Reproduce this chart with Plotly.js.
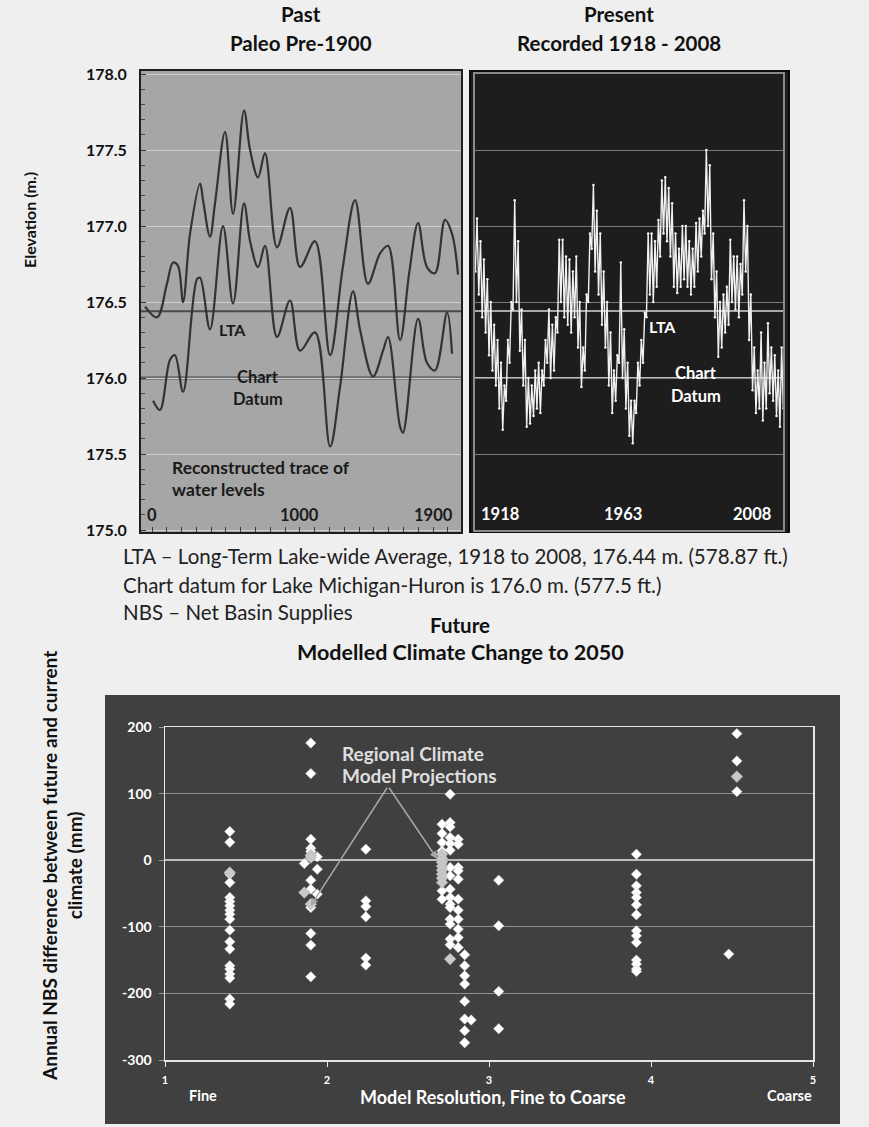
<!DOCTYPE html>
<html>
<head>
<meta charset="utf-8">
<script src="https://cdn.plot.ly/plotly-3.0.1.min.js"></script>
<style>html,body{margin:0;padding:0;background:#efefef;}#chart{width:869px;height:1127px;}</style>
</head>
<body>
<div id="chart"></div>
<script>
// ---------- Past: paleo reconstruction (two traces) ----------
const paleoAYears = [-47, 34, 101, 142, 175, 210, 257, 325, 345, 392, 426, 494, 548, 622, 663, 717, 764, 845, 933, 1001, 1102, 1204, 1290, 1373, 1460, 1542, 1596, 1677, 1740, 1799, 1859, 1913, 1981, 2028, 2069];
const paleoALevel = [176.47, 176.40, 176.62, 176.76, 176.74, 176.50, 176.95, 177.28, 177.17, 176.93, 177.15, 177.62, 177.08, 177.76, 177.50, 177.32, 177.48, 176.86, 177.12, 176.73, 176.90, 176.15, 176.73, 177.17, 176.62, 176.82, 176.87, 176.25, 176.70, 177.02, 176.73, 176.69, 177.04, 176.95, 176.68];
const paleoBYears = [7, 54, 122, 155, 210, 304, 325, 392, 480, 548, 622, 663, 717, 764, 845, 933, 1001, 1102, 1204, 1271, 1359, 1406, 1494, 1562, 1596, 1677, 1697, 1799, 1859, 1913, 1995, 2028];
const paleoBLevel = [175.85, 175.79, 176.12, 176.15, 175.91, 176.65, 176.66, 176.32, 177.00, 176.49, 177.15, 176.90, 176.73, 176.87, 176.27, 176.51, 176.18, 176.30, 175.55, 175.94, 176.57, 176.32, 176.01, 176.18, 176.27, 175.68, 175.64, 176.39, 176.10, 176.05, 176.43, 176.16];
const paleoTickVals = [0, 1000, 1900];
const paleoTickText = ['0', '1000', '1900'];

// ---------- Present: recorded 1918-2008 (seasonal low / high per year) ----------
const recFirstYear = 1918, recLastYear = 2008;
const recLow = [176.70,176.55,176.40,176.30,176.15,176.05,175.95,175.80,175.66,175.85,
176.10,176.45,176.50,176.18,175.95,175.68,175.70,175.75,175.80,175.77,
175.95,176.10,176.00,176.05,176.30,176.50,176.40,176.35,176.30,176.40,
176.20,175.94,176.05,176.50,176.85,176.70,176.55,176.35,176.20,175.95,
175.77,175.85,176.10,176.00,175.80,175.62,175.57,175.77,175.95,176.10,
176.40,176.55,176.50,176.60,176.80,176.95,176.90,176.80,176.60,176.56,
176.60,176.65,176.60,176.55,176.60,176.70,176.80,176.95,177.00,176.65,
176.40,176.14,176.20,176.30,176.35,176.50,176.45,176.40,176.55,176.70,
176.25,175.92,175.77,175.80,175.72,175.80,175.90,175.85,175.75,175.68,
175.80];
const recHigh = [177.05,176.90,176.78,176.65,176.50,176.35,176.25,176.10,175.95,176.25,
176.50,177.17,176.90,176.45,176.25,176.00,175.95,176.05,176.10,176.05,
176.25,176.45,176.35,176.40,176.91,176.91,176.80,176.78,176.70,176.80,
176.50,176.20,176.55,176.95,177.27,177.10,176.95,176.70,176.50,176.30,
176.05,176.15,176.76,176.32,176.10,175.85,175.85,176.10,176.25,176.43,
176.95,176.95,176.90,177.04,177.30,177.32,177.25,177.15,176.95,176.85,
177.00,177.00,176.90,176.85,177.02,177.05,177.10,177.50,177.40,176.95,
176.70,176.50,176.55,176.60,176.91,176.80,176.80,176.75,177.17,177.00,
176.55,176.20,176.05,176.30,176.10,176.36,176.20,176.15,176.05,176.20,
176.10];
const recTickVals = [1918, 1963, 2008];

// reference levels (m)
const LTA = 176.44;
const CHART_DATUM = 176.0;

// ---------- Future: modelled NBS change (mm) ----------
// white diamonds (global models), grouped by model-resolution column
const gcmCols = [
  {x: 1.40, y: [43, 27, -21, -33.5, -56, -62, -68.5, -75, -81, -88.5, -105, -122.5, -133.5, -158.5, -163.5, -171, -177, -208.5, -216]},
  {x: 1.90, y: [176, 130, 31.5, 18, 13, -30, -43.5, -71, -110, -127.5, -175]},
  {x: 1.94, y: [5, -13.5, -51]},
  {x: 1.86, y: [-5]},
  {x: 2.24, y: [16.5, -61, -69.5, -85, -147, -157.5]},
  {x: 2.71, y: [54, 40, 26.5, 14, -46, -58.5]},
  {x: 2.76, y: [99, 56.5, 50, 34, 25, 15, -11, -23.5, -43.5, -56, -66, -71, -88.5, -96, -118.5, -127]},
  {x: 2.81, y: [31.5, 24, -11, -16, -28.5, -58.5, -75, -88.5, -103.5, -116, -131]},
  {x: 2.85, y: [-142, -158.5, -173.5, -186, -212, -238.5, -256, -274]},
  {x: 2.89, y: [-240]},
  {x: 3.06, y: [-30, -98.5, -197, -253]},
  {x: 3.91, y: [9, -21, -38.5, -48.5, -56, -67, -82, -106, -113.5, -123.5, -150, -156, -163.5, -167]},
  {x: 4.53, y: [190, 149, 103]},
  {x: 4.48, y: [-141]}
];
// light grey markers (regional climate models)
const rcmCols = [
  {x: 1.40, y: [-18.5]},
  {x: 1.90, y: [7.5, 4, -66]},
  {x: 1.86, y: [-48.5]},
  {x: 2.71, y: [9, 3, -3, -9, -15, -21, -27, -33.5]},
  {x: 2.76, y: [-148.5]},
  {x: 4.53, y: [125.5]}
];
const rcmArrowTargets = [{x: 1.90, y: -68.5}, {x: 2.68, y: 2}];
const rcmArrowApex = {x: 2.377, y: 111};
const nbsTickVals = [-300, -200, -100, 0, 100, 200];
const nbsTickText = ['-300', '-200', '-100', '0', '100', '200'];
const resTickVals = [1, 2, 3, 4, 5];

// ---------- build ----------
const W = 869, H = 1127;
const px = v => v / W, py = v => 1 - v / H;
const FONT = 'Lato, "Open Sans", "DejaVu Sans", sans-serif';

const recX = [], recY = [];
for (let i = 0; i <= recLastYear - recFirstYear; i++) {
  recX.push(recFirstYear + i + 0.1); recY.push(recLow[i]);
  recX.push(recFirstYear + i + 0.6); recY.push(recHigh[i]);
}
function flatten(cols) {
  const xs = [], ys = [];
  cols.forEach(c => c.y.forEach(v => { xs.push(c.x); ys.push(v); }));
  return {xs, ys};
}
const gcm = flatten(gcmCols), rcm = flatten(rcmCols);

const traces = [
  {x: paleoAYears, y: paleoALevel, xaxis: 'x', yaxis: 'y', mode: 'lines', line: {color: '#333333', width: 2.2, shape: 'spline', smoothing: 1}, hoverinfo: 'skip'},
  {x: paleoBYears, y: paleoBLevel, xaxis: 'x', yaxis: 'y', mode: 'lines', line: {color: '#333333', width: 2.2, shape: 'spline', smoothing: 1}, hoverinfo: 'skip'},
  {x: recX, y: recY, xaxis: 'x2', yaxis: 'y2', mode: 'lines+markers', line: {color: '#f0f0f0', width: 1.4}, marker: {color: '#f4f4f4', size: 2.5}, hoverinfo: 'skip'},
  {x: gcm.xs, y: gcm.ys, xaxis: 'x3', yaxis: 'y3', mode: 'markers', marker: {symbol: 'diamond', size: 8, color: '#ffffff', line: {color: '#cfcfcf', width: 0.5}}, hoverinfo: 'skip'},
  {x: rcm.xs, y: rcm.ys, xaxis: 'x3', yaxis: 'y3', mode: 'markers', marker: {symbol: 'diamond', size: 9, color: '#c9c9c9', line: {color: '#b0b0b0', width: 0.5}}, hoverinfo: 'skip'}
];

const bold = (size, color) => ({family: FONT, size: size, color: color, weight: 700});

const annotations = [
  {text: 'Past', x: px(301), y: py(14), font: bold(20.5, '#111')},
  {text: 'Paleo Pre-1900', x: px(301), y: py(43), font: bold(20.5, '#111')},
  {text: 'Present', x: px(619), y: py(14), font: bold(20.5, '#111')},
  {text: 'Recorded 1918 - 2008', x: px(619), y: py(43), font: bold(20.5, '#111')},
  {text: 'Elevation (m.)', x: px(30), y: py(220), textangle: -90, font: bold(16, '#111')},
  {text: 'LTA', x: px(233), y: py(329), font: bold(16, '#1a1a1a')},
  {text: 'Chart', x: px(258), y: py(377), font: bold(16.5, '#1a1a1a')},
  {text: 'Datum', x: px(258), y: py(399), font: bold(16.5, '#1a1a1a')},
  {text: 'Reconstructed trace of', x: px(170), y: py(468), xanchor: 'left', font: bold(17.5, '#1a1a1a')},
  {text: 'water levels', x: px(170), y: py(490), xanchor: 'left', font: bold(17.5, '#1a1a1a')},
  {text: 'LTA', x: px(662), y: py(326), font: bold(16, '#ffffff')},
  {text: 'Chart', x: px(696), y: py(373), font: bold(16.5, '#ffffff')},
  {text: 'Datum', x: px(696), y: py(396), font: bold(16.5, '#ffffff')},
  {text: 'LTA – Long-Term Lake-wide Average, 1918 to 2008, 176.44 m. (578.87 ft.)', x: px(121), y: py(556), xanchor: 'left', font: {family: FONT, size: 20.5, color: '#222'}},
  {text: 'Chart datum for Lake Michigan-Huron is 176.0 m. (577.5 ft.)', x: px(121), y: py(585), xanchor: 'left', font: {family: FONT, size: 20.5, color: '#222'}},
  {text: 'NBS – Net Basin Supplies', x: px(121), y: py(612), xanchor: 'left', font: {family: FONT, size: 20.5, color: '#222'}},
  {text: 'Future', x: px(460), y: py(625), font: bold(20.5, '#111')},
  {text: 'Modelled Climate Change to 2050', x: px(460), y: py(652), font: bold(21.5, '#111')},
  {text: 'Annual NBS difference between future and current<br>climate (mm)', x: px(62), y: py(866), textangle: -90, font: bold(19, '#111')},
  {text: 'Regional Climate', x: px(340), y: py(753), xanchor: 'left', font: bold(19, '#dedede')},
  {text: 'Model Projections', x: px(340), y: py(775), xanchor: 'left', font: bold(19, '#dedede')},
  {text: 'Fine', x: px(203), y: py(1095), font: bold(14.5, '#ffffff')},
  {text: 'Coarse', x: px(789), y: py(1095), font: bold(14.5, '#ffffff')},
  {text: 'Model Resolution, Fine to Coarse', x: px(493), y: py(1097), font: bold(18, '#ffffff')}
].map(a => Object.assign({xref: 'paper', yref: 'paper', showarrow: false, xanchor: 'center', yanchor: 'middle'}, a));

// paleo x labels (inside the panel)
paleoTickVals.forEach((v, i) => annotations.push({text: paleoTickText[i], x: v, xref: 'x', y: py(515), yref: 'paper', showarrow: false, font: bold(16.5, '#1a1a1a')}));
// recorded x labels (inside the panel)
const recAnch = ['left', 'center', 'right'];
const recShift = [4, -6, -10];
recTickVals.forEach((v, i) => annotations.push({text: String(v), x: v, xref: 'x2', y: py(514), yref: 'paper', xanchor: recAnch[i], xshift: recShift[i], showarrow: false, font: bold(16.5, '#ffffff')}));
// RCM arrows
rcmArrowTargets.forEach(t => annotations.push({text: '', x: t.x, y: t.y, xref: 'x3', yref: 'y3', ax: rcmArrowApex.x, ay: rcmArrowApex.y, axref: 'x3', ayref: 'y3', showarrow: true, arrowhead: 2, arrowsize: 1, arrowwidth: 1.5, arrowcolor: '#a8a8a8'}));

const shapes = [
  // panel backgrounds
  {type: 'rect', xref: 'paper', yref: 'paper', x0: px(141), x1: px(461), y0: py(532), y1: py(71), fillcolor: '#a6a6a6', line: {width: 0}, layer: 'below'},
  {type: 'rect', xref: 'paper', yref: 'paper', x0: px(470), x1: px(789), y0: py(532), y1: py(71), fillcolor: '#1d1d1d', line: {color: '#0e0e0e', width: 2}, layer: 'below'},
  {type: 'rect', xref: 'paper', yref: 'paper', x0: px(105), x1: px(840), y0: py(1124), y1: py(695), fillcolor: '#404040', line: {width: 0}, layer: 'below'},
  // reference levels, past
  {type: 'line', xref: 'x domain', yref: 'y', x0: 0, x1: 1, y0: LTA, y1: LTA, line: {color: '#4a4a4a', width: 2}, layer: 'below'},
  {type: 'line', xref: 'x domain', yref: 'y', x0: 0, x1: 1, y0: CHART_DATUM, y1: CHART_DATUM, line: {color: '#6c6c6c', width: 3.5}, layer: 'below'},
  // reference levels, present
  {type: 'line', xref: 'x2 domain', yref: 'y2', x0: 0, x1: 1, y0: LTA, y1: LTA, line: {color: '#a8a8a8', width: 2}, layer: 'below'},
  {type: 'line', xref: 'x2 domain', yref: 'y2', x0: 0, x1: 1, y0: CHART_DATUM, y1: CHART_DATUM, line: {color: '#bdbdbd', width: 2}, layer: 'below'}
];

const layout = {
  width: W, height: H, margin: {l: 0, r: 0, t: 0, b: 0},
  paper_bgcolor: '#efefef', plot_bgcolor: 'rgba(0,0,0,0)', showlegend: false,
  font: {family: FONT},
  xaxis: {domain: [px(141), px(461)], range: [-74.4, 2089], anchor: 'y', showgrid: false, zeroline: false,
    showline: true, mirror: true, linecolor: '#1e1e1e', linewidth: 2,
    ticks: 'inside', tick0: 0, dtick: 100, ticklen: 5, tickcolor: '#3a3a3a', showticklabels: false},
  yaxis: {domain: [py(532), py(71)], range: [174.987, 178.02], anchor: 'x', tick0: 175, dtick: 0.5, tickformat: '.1f',
    showgrid: true, gridcolor: '#cdcdcd', gridwidth: 1, zeroline: false,
    showline: true, mirror: true, linecolor: '#1e1e1e', linewidth: 2,
    ticks: 'inside', ticklen: 5, tickcolor: '#3a3a3a',
    minor: {dtick: 0.1, ticks: 'inside', ticklen: 4, tickcolor: '#4a4a4a', showgrid: false},
    tickfont: bold(16, '#111'), ticklabelstandoff: 9},
  xaxis2: {domain: [px(475), px(783)], range: [1918, 2008], anchor: 'y2', showgrid: false, zeroline: false,
    showline: true, mirror: true, linecolor: '#8a8a8a', linewidth: 2, ticks: '', showticklabels: false},
  yaxis2: {domain: [py(530), py(74)], range: [175, 178], anchor: 'x2', tick0: 175, dtick: 0.5,
    showgrid: true, gridcolor: '#7a7a7a', gridwidth: 1, zeroline: false,
    showline: true, mirror: true, linecolor: '#8a8a8a', linewidth: 2, ticks: '', showticklabels: false},
  xaxis3: {domain: [px(165), px(813)], range: [1, 5], anchor: 'y3', tickmode: 'array', tickvals: resTickVals, showgrid: false, zeroline: false,
    showline: true, mirror: true, linecolor: '#e6e6e6', linewidth: 1.5,
    ticks: 'outside', ticklen: 5, tickcolor: '#e6e6e6', tickfont: bold(11, '#ffffff'), ticklabelstandoff: 4},
  yaxis3: {domain: [py(1060), py(727)], range: [-300, 200], anchor: 'x3', tickmode: 'array', tickvals: nbsTickVals, ticktext: nbsTickText,
    showgrid: true, gridcolor: '#8e8e8e', gridwidth: 1,
    zeroline: true, zerolinecolor: '#bdbdbd', zerolinewidth: 2,
    showline: true, mirror: true, linecolor: '#e6e6e6', linewidth: 1.5,
    ticks: 'outside', ticklen: 5, tickcolor: '#9a9a9a', tickfont: bold(14, '#ffffff'), ticklabelstandoff: 4},
  annotations: annotations,
  shapes: shapes
};

Plotly.newPlot('chart', traces, layout, {staticPlot: true, displayModeBar: false});
</script>
</body>
</html>
